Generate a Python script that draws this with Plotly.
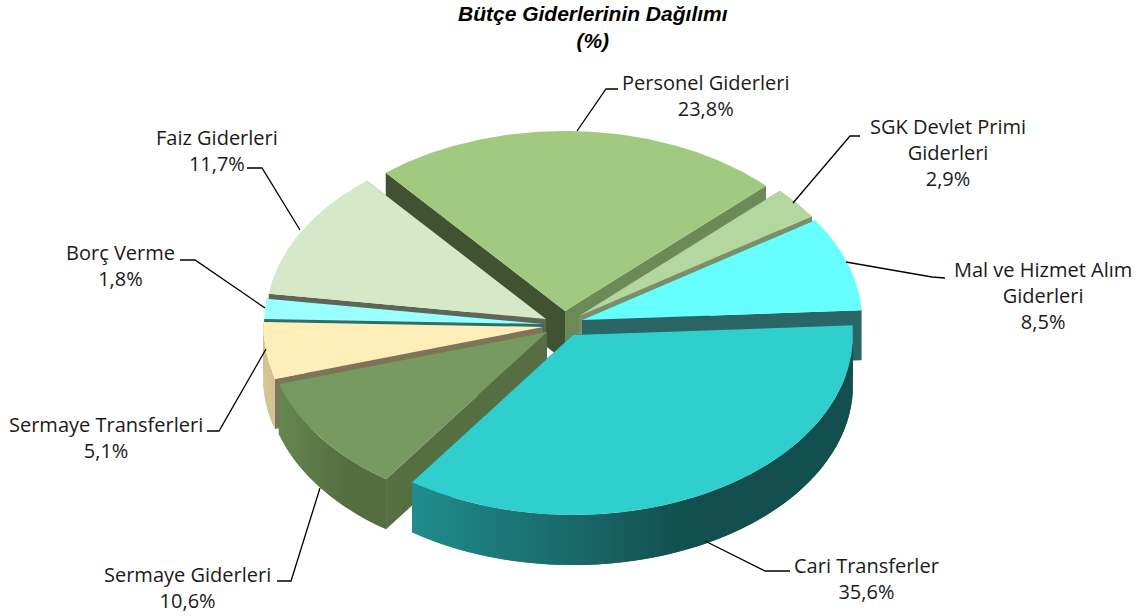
#!/usr/bin/env python3

"""Exploded 3D style pie of budget expenses, drawn as filled scatter polygons"""

import numpy as np
import plotly.graph_objects as go

# data, clockwise from the first slice
categories = [
    "Personel Giderleri",
    "SGK Devlet Primi Giderleri",
    "Mal ve Hizmet Alım Giderleri",
    "Cari Transferler",
    "Sermaye Giderleri",
    "Sermaye Transferleri",
    "Borç Verme",
    "Faiz Giderleri",
]
values = [23.8, 2.9, 8.5, 35.6, 10.6, 5.1, 1.8, 11.7]
label_lines = [
    ["Personel Giderleri"],
    ["SGK Devlet Primi", "Giderleri"],
    ["Mal ve Hizmet Alım", "Giderleri"],
    ["Cari Transferler"],
    ["Sermaye Giderleri"],
    ["Sermaye Transferleri"],
    ["Borç Verme"],
    ["Faiz Giderleri"],
]

# styling per slice
top_colors = ["#A1C97F", "#B4D7A0", "#66FFFF", "#31CECE", "#769A60", "#FFEEB8", "#99FFFF", "#D5E8C8"]
start_wall_colors = ["#3F5232", "#7B8E68", "#2A6666", "#165A5A", "#566F42", "#7F7459", "#2D6E6E", "#5F6655"]
end_wall_colors = ["#6B8A55", "#7B8E68", "#2A6666", "#165A5A", "#566F42", "#7F7459", "#2D6E6E", "#5F6655"]
outer_left_colors = ["#6B8A55", "#7B8E68", "#2A6666", "#218C8C", "#668750", "#D6C696", "#2D6E6E", "#5F6655"]
outer_right_colors = ["#6B8A55", "#7B8E68", "#2A6666", "#134F4F", "#546E40", "#D3C392", "#2D6E6E", "#5F6655"]

# geometry, in page pixels
apex_x = [565, 579, 582, 573, 547, 543, 544, 546]
apex_y = [311, 316, 320, 335, 332, 327, 324, 319]
radius_x = 280
radius_y = 180
depth = 50
first_angle = -39.8
draw_order = [0, 1, 7, 2, 6, 5, 4, 3]

# label centres and leader lines, in page pixels
label_x = [705, 948, 1043, 866, 187, 106, 120, 217]
label_y = [95, 152, 295, 578, 587, 437, 265, 150]
leader_x = [
    [577, 606, 618],
    [793, 850, 860],
    [846, 932, 945],
    [705, 765, 790],
    [320, 291, 277],
    [266, 219, 207],
    [265, 195, 180],
    [300, 262, 247],
]
leader_y = [
    [131, 89, 89],
    [203, 136, 136],
    [262, 277, 278],
    [541, 571, 571],
    [488, 581, 581],
    [349, 431, 431],
    [308, 260, 260],
    [230, 168, 168],
]

FONT = "Open Sans"


def rim(cx, cy, angles):
    """points on the ellipse for angles in degrees, clockwise from the top"""
    theta = np.radians(angles)
    return cx + radius_x * np.sin(theta), cy - radius_y * np.cos(theta)


def polygon(x, y, color):
    return go.Scatter(
        x=list(x),
        y=list(y),
        mode="lines",
        fill="toself",
        fillcolor=color,
        line={"width": 0, "color": color},
        hoverinfo="skip",
        showlegend=False,
    )


def mix(c1, c2, t):
    a = [int(c1[i : i + 2], 16) for i in (1, 3, 5)]
    b = [int(c2[i : i + 2], 16) for i in (1, 3, 5)]
    return "rgb({},{},{})".format(*[round(p + (q - p) * t) for p, q in zip(a, b)])


def add_slice(fig, i, start, end):
    cx, cy = apex_x[i], apex_y[i]

    # radial walls
    for angle, color in ((start, start_wall_colors[i]), (end, end_wall_colors[i])):
        ex, ey = rim(cx, cy, np.array([angle]))
        fig.add_trace(
            polygon(
                [cx, ex[0], ex[0], cx],
                [cy, ey[0], ey[0] + depth, cy + depth],
                color,
            )
        )

    # outer wall, only the part that faces the viewer, in thin strips for the gradient
    low, high = max(start, 90), min(end, 270)
    if high > low:
        edges = np.linspace(low, high, int(high - low) + 2)
        xs, ys = rim(cx, cy, edges)
        x_min, x_max = xs.min(), xs.max()
        for k in range(len(edges) - 1):
            t = (0.5 * (xs[k] + xs[k + 1]) - x_min) / max(x_max - x_min, 1)
            color = mix(outer_left_colors[i], outer_right_colors[i], min(t * 1.6, 1))
            k2 = min(k + 2, len(edges) - 1)
            fig.add_trace(
                polygon(
                    [xs[k], xs[k2], xs[k2], xs[k]],
                    [ys[k], ys[k2], ys[k2] + depth, ys[k] + depth],
                    color,
                )
            )

    # top face
    angles = np.linspace(start, end, int(end - start) * 2 + 3)
    xs, ys = rim(cx, cy, angles)
    fig.add_trace(
        polygon(np.r_[cx, xs, cx], np.r_[cy, ys, cy], top_colors[i])
    )


fig = go.Figure()

edges = first_angle + np.r_[0, np.cumsum(values)] * 360 / sum(values)
for i in draw_order:
    add_slice(fig, i, edges[i], edges[i + 1])

for i, category in enumerate(categories):
    fig.add_trace(
        go.Scatter(
            x=leader_x[i],
            y=leader_y[i],
            mode="lines",
            line={"color": "#000000", "width": 1.3},
            hoverinfo="skip",
            showlegend=False,
        )
    )
    value_text = f"{values[i]:.1f}%".replace(".", ",")
    fig.add_annotation(
        x=label_x[i],
        y=label_y[i],
        text="<br>".join(label_lines[i] + [value_text]),
        showarrow=False,
        align="center",
        xanchor="center",
        yanchor="middle",
        font={"family": FONT, "size": 20, "color": "#1A1A1A"},
    )

fig.add_annotation(
    x=593,
    y=27,
    text="<b><i>Bütçe Giderlerinin Dağılımı<br>(%)</i></b>",
    showarrow=False,
    align="center",
    xanchor="center",
    yanchor="middle",
    font={"family": "Liberation Sans", "size": 21, "color": "#000000"},
)

fig.update_layout(
    width=1143,
    height=616,
    margin={"l": 0, "r": 0, "t": 0, "b": 0},
    paper_bgcolor="#FFFFFF",
    plot_bgcolor="#FFFFFF",
    xaxis={"range": [0, 1143], "visible": False, "fixedrange": True},
    yaxis={"range": [616, 0], "visible": False, "fixedrange": True},
    showlegend=False,
)

# the default body margin would push the figure off the window
fig.write_html(
    "out.html",
    config={"displayModeBar": False},
    post_script="document.body.style.margin = '0';",
)
